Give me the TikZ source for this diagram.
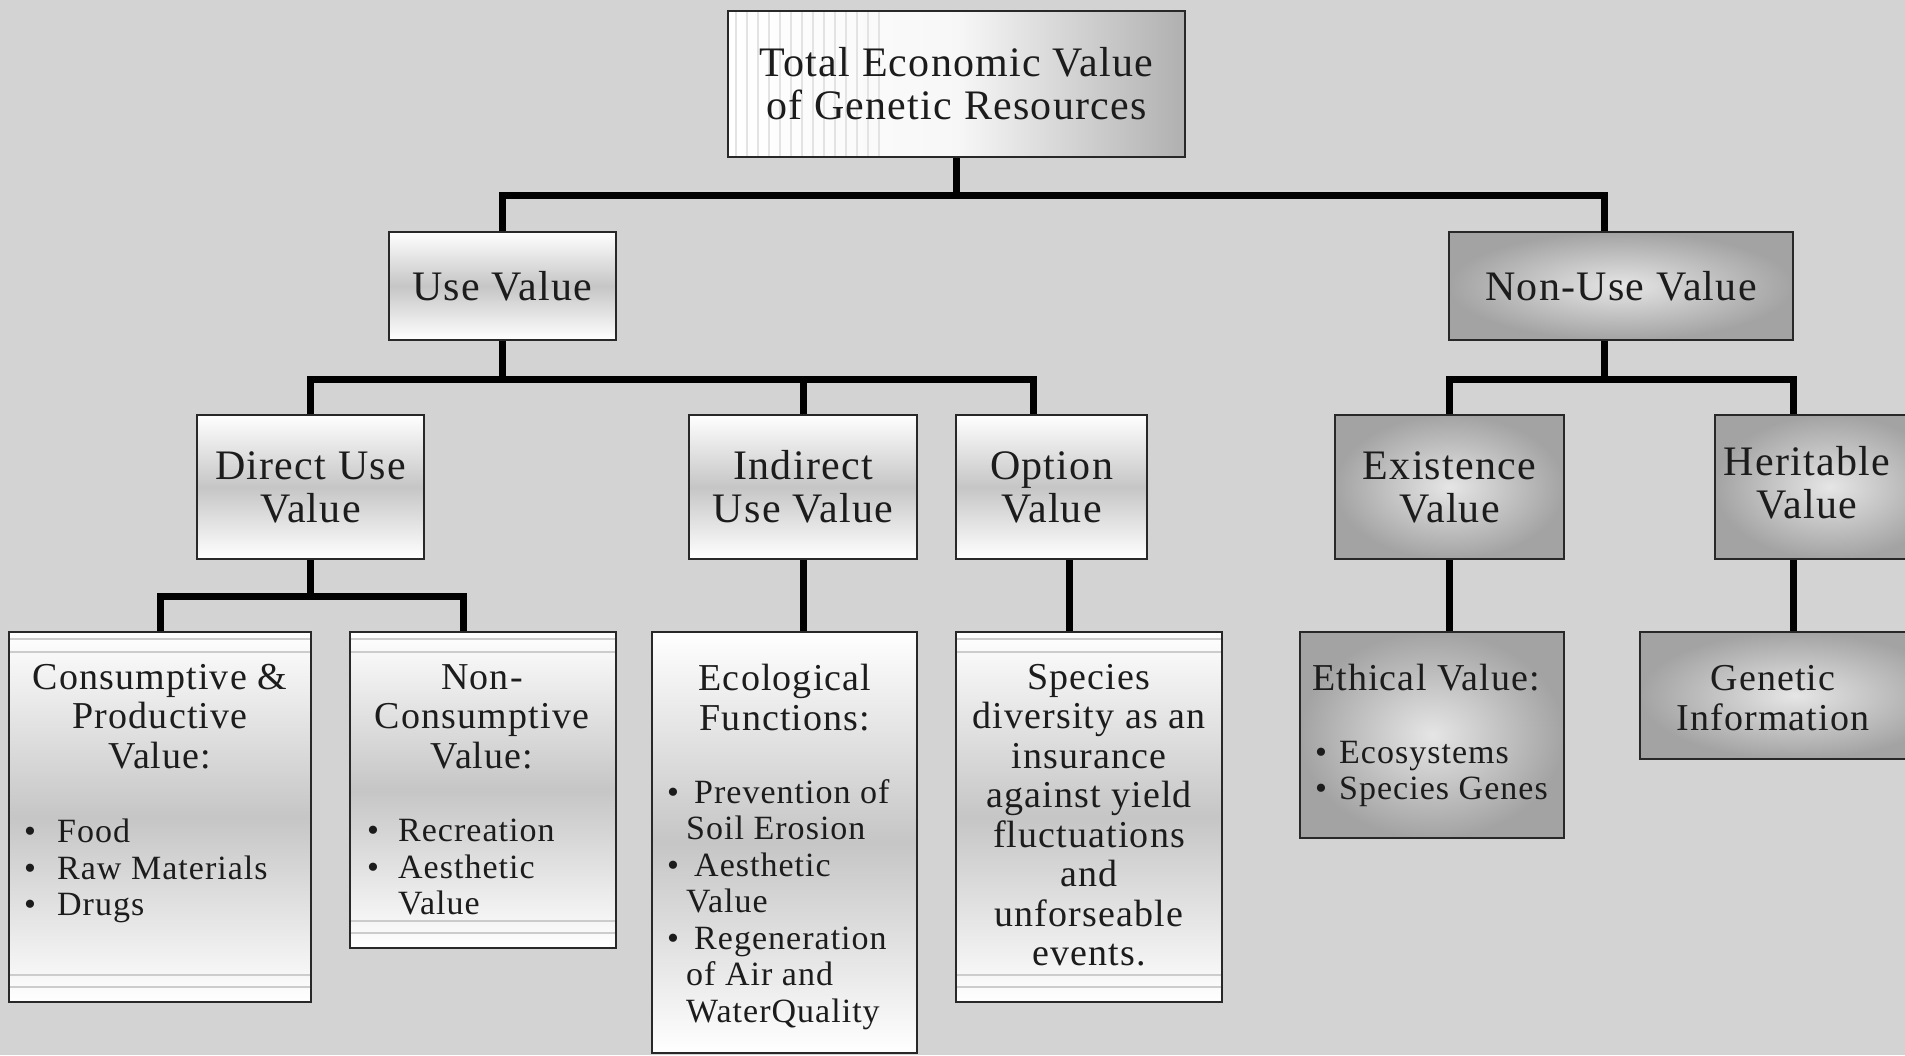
\documentclass[tikz,border=0pt]{standalone}
\usepackage{fontspec}
\setmainfont{Liberation Serif}[LetterSpace=3]
\usetikzlibrary{calc}
\definecolor{bg}{RGB}{211,211,211}
\definecolor{ink}{RGB}{28,28,28}
\definecolor{rim}{RGB}{40,40,40}
\newcommand\bulw[1]{\makebox[#1][l]{\textbullet}}
\begin{document}
\begin{tikzpicture}[x=1pt,y=-1pt,
  box/.style={draw=rim, line width=2.5pt, inner sep=0pt, rectangle},
  silver/.style={box, top color=white, bottom color=white, middle color=gray!45},
  steel/.style={box, inner color=gray!20, outer color=gray!72},
  ruled/.style={path picture={
    \foreach \d in {7,20}
      \draw[gray!40, line width=1.2pt] ($(path picture bounding box.north west)+(0,\d)$) -- ($(path picture bounding box.north east)+(0,\d)$);
    \foreach \d in {15,27}
      \draw[gray!40, line width=1.2pt] ($(path picture bounding box.south west)+(0,-\d)$) -- ($(path picture bounding box.south east)+(0,-\d)$);
  }},
  stripes/.style={path picture={
    \foreach \i in {0,...,13}
      \draw[gray!22, line width=1.3pt] ($(path picture bounding box.north west)+(8+11*\i,0)$) -- ($(path picture bounding box.south west)+(8+11*\i,0)$);
  }},
  hd/.style={font=\fontsize{42}{43}\selectfont, align=center, text=ink},
  sub/.style={font=\fontsize{38}{39.5}\selectfont, align=center, text=ink, inner sep=0pt, anchor=north},
  items/.style={font=\fontsize{34}{36.5}\selectfont, align=left, text=ink, inner sep=0pt, anchor=north west},
  conn/.style={line width=7pt, draw=black, line join=miter},
]
\useasboundingbox (0,0) rectangle (1905,1055);
\clip (0,0) rectangle (1905,1055);
\fill[bg] (0,0) rectangle (1905,1055);

% top level
\node[box, stripes, left color=white, right color=gray!62, middle color=gray!6,
      minimum width=457pt, minimum height=146pt, hd] (tev) at (956.5,84)
      {Total Economic Value\\of Genetic Resources};

% second level
\node[silver, minimum width=227pt, minimum height=108pt, hd] (use) at (502.5,286) {Use Value};
\node[steel, minimum width=344pt, minimum height=108pt, hd] (nonuse) at (1621,286) {Non-Use Value};

% third level
\node[silver, minimum width=227pt, minimum height=144pt, hd] (direct) at (310.5,487) {Direct Use\\Value};
\node[silver, minimum width=228pt, minimum height=144pt, hd] (indirect) at (803,487) {Indirect\\Use Value};
\node[silver, minimum width=191pt, minimum height=144pt, hd] (option) at (1051.5,487) {Option\\Value};
\node[steel, minimum width=229pt, minimum height=144pt, hd] (exist) at (1449.5,487) {Existence\\Value};
\node[steel, minimum width=230pt, minimum height=144pt] (herit) at (1830,487) {};
\node[hd] (heritlbl) at (1807,483) {Heritable\\Value};

% fourth level boxes
\node[silver, ruled, minimum width=302pt, minimum height=370pt] (cons) at (160,817) {};
\node[silver, ruled, minimum width=266pt, minimum height=316pt] (noncons) at (483,790) {};
\node[silver, minimum width=265pt, minimum height=421pt] (eco) at (784.5,842.5) {};
\node[silver, ruled, minimum width=266pt, minimum height=370pt] (species) at (1089,817) {};
\node[steel, minimum width=264pt, minimum height=206pt] (ethic) at (1432,735) {};
\node[steel, minimum width=310pt, minimum height=127pt] (genetic) at (1795,695.5) {};

% fourth level texts
\node[sub] (consh) at (160,664) {Consumptive \&\\Productive\\Value:};
\node[items] (consl) at (24,819) {\bulw{33pt}Food\\\bulw{33pt}Raw Materials\\\bulw{33pt}Drugs};

\node[sub] (nonconsh) at (482,664) {Non-\\Consumptive\\Value:};
\node[items] (nonconsl) at (367,819) {\bulw{31pt}Recreation\\\bulw{31pt}Aesthetic\\\hspace*{31pt}Value};

\node[sub] (ecoh) at (785,664) {Ecological\\Functions:};
\node[items] (ecol) at (667,779) {\bulw{27pt}Prevention of\\\hspace*{19pt}Soil Erosion\\\bulw{27pt}Aesthetic\\\hspace*{19pt}Value\\\bulw{27pt}Regeneration\\\hspace*{19pt}of Air and\\\hspace*{19pt}WaterQuality};

\node[sub] (spech) at (1089,664) {Species\\diversity as an\\insurance\\against yield\\fluctuations\\and\\unforseable\\events.};

\node[sub] (ethich) at (1426,664) {Ethical Value:};
\node[items] (ethicl) at (1315,741) {\bulw{24pt}Ecosystems\\\bulw{24pt}Species Genes};

\node[sub, anchor=center] (genlbl) at (1773,698) {Genetic\\Information};

% connectors: top level to second level
\coordinate (j0) at ($(tev.south)+(0,37)$);
\coordinate (nu) at ($(nonuse.north)+(-17,0)$);
\draw[conn] (tev.south) -- (j0);
\draw[conn] (use.north) |- (nu |- j0) -- (nu);

% use value branch
\coordinate (j1) at ($(use.south)+(0,38)$);
\coordinate (op) at ($(option.north)+(-18,0)$);
\draw[conn] (use.south) -- (j1);
\draw[conn] (direct.north) |- (op |- j1) -- (op);
\draw[conn] (indirect.north) -- (indirect.north |- j1);

% non-use value branch
\coordinate (nus) at ($(nonuse.south)+(-17,0)$);
\coordinate (j2) at ($(nus)+(0,38)$);
\coordinate (hr) at ($(herit.north)+(-37,0)$);
\draw[conn] (nus) -- (j2);
\draw[conn] (exist.north) |- (hr |- j2) -- (hr);

% direct use branch
\coordinate (j3) at ($(direct.south)+(0,36)$);
\coordinate (nc) at ($(noncons.north)+(-20,0)$);
\draw[conn] (direct.south) -- (j3);
\draw[conn] (cons.north) |- (nc |- j3) -- (nc);

% single drops
\draw[conn] (indirect.south) -- (indirect.south |- eco.north);
\coordinate (os) at ($(option.south)+(18,0)$);
\draw[conn] (os) -- (os |- species.north);
\draw[conn] (exist.south) -- (exist.south |- ethic.north);
\coordinate (hs) at ($(herit.south)+(-37,0)$);
\draw[conn] (hs) -- (hs |- genetic.north);
\end{tikzpicture}
\end{document}
